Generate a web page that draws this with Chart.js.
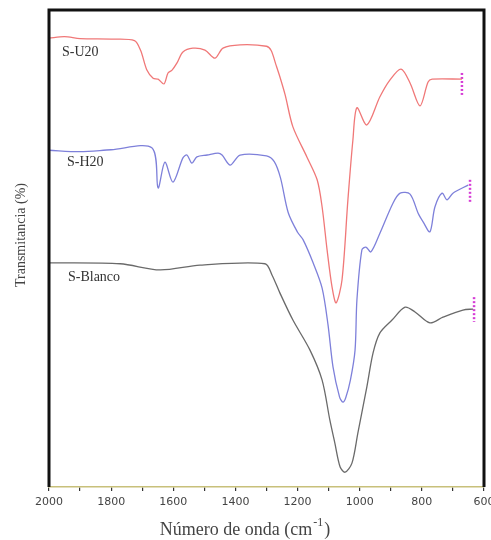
<!DOCTYPE html>
<html>
<head>
<meta charset="utf-8">
<script src="https://cdn.jsdelivr.net/npm/chart.js@4.4.1/dist/chart.umd.min.js"></script>
<style>
  html, body { margin: 0; padding: 0; background: #fff; }
  #wrap { position: relative; width: 491px; height: 540px; }
</style>
</head>
<body>
<div id="wrap"><canvas id="ftir"></canvas></div>
<script>
(function () {
  "use strict";

  // wavenumber (cm-1) / transmittance (arbitrary, 0-100)
  var u20Wave = [2000, 1950, 1900, 1800, 1725, 1705, 1685, 1665, 1649, 1630, 1617, 1604, 1588, 1569, 1537, 1498, 1466, 1440, 1385, 1300, 1285, 1270, 1257, 1240, 1215, 1170, 1137, 1121, 1105, 1089, 1076, 1057, 1038, 1022, 1009, 977, 935, 903, 867, 838, 806, 780, 767, 671];
  var u20Trans = [94.1, 94.4, 94.0, 93.9, 93.6, 91.5, 87.4, 85.7, 85.5, 84.5, 86.8, 87.4, 88.9, 91.2, 92.0, 91.6, 89.9, 92.0, 92.7, 92.4, 91.5, 88.6, 86.0, 82.2, 75.5, 69.2, 64.4, 58.7, 49.7, 41.9, 38.6, 43.4, 60.2, 72.7, 79.5, 75.9, 81.8, 85.3, 87.6, 84.7, 79.9, 84.9, 85.5, 85.5];

  var h20Wave = [2000, 1900, 1800, 1669, 1649, 1627, 1601, 1569, 1556, 1540, 1524, 1491, 1456, 1443, 1417, 1385, 1300, 1275, 1255, 1230, 1200, 1182, 1150, 1121, 1102, 1086, 1065, 1054, 1045, 1030, 1015, 1009, 993, 980, 964, 935, 893, 870, 838, 812, 796, 774, 758, 735, 719, 700, 651];
  var h20Trans = [70.6, 70.3, 70.7, 71.1, 62.7, 68.1, 63.9, 69.0, 69.6, 67.9, 69.2, 69.6, 70.0, 69.6, 67.5, 69.6, 69.4, 68.2, 64.8, 57.5, 53.4, 51.8, 47.0, 41.7, 34.0, 25.2, 18.9, 17.8, 18.7, 22.4, 28.7, 39.2, 49.7, 50.3, 49.3, 53.2, 59.5, 61.6, 61.4, 57.4, 55.6, 53.5, 58.7, 61.6, 60.2, 61.6, 63.3];

  var blancoWave = [2000, 1771, 1643, 1514, 1305, 1282, 1257, 1215, 1160, 1121, 1096, 1080, 1063, 1047, 1025, 1006, 977, 957, 935, 896, 854, 822, 774, 732, 668, 635];
  var blancoTrans = [47.0, 46.8, 45.5, 46.5, 46.8, 44.4, 40.7, 35.0, 28.7, 22.4, 14.0, 9.2, 4.2, 3.1, 5.0, 11.3, 21.0, 28.1, 32.3, 35.0, 37.7, 36.7, 34.4, 35.6, 37.1, 37.3];

  // small dotted end markers
  var u20MarkWave = [671, 671];
  var u20MarkTrans = [86.8, 82.2];
  var h20MarkWave = [645, 645];
  var h20MarkTrans = [64.4, 59.5];
  var blancoMarkWave = [632, 632];
  var blancoMarkTrans = [39.8, 34.6];

  var seriesNames = ["S-U20", "S-H20", "S-Blanco"];
  var labelWave = [1958, 1942, 1939];
  var labelTrans = [91.2, 68.1, 44.0];

  var xTicks = [2000, 1800, 1600, 1400, 1200, 1000, 800, 600];

  function pts(xs, ys) {
    return xs.map(function (x, i) { return { x: x, y: ys[i] }; });
  }

  function spectrum(label, xs, ys, color) {
    return {
      label: label,
      data: pts(xs, ys),
      borderColor: color,
      borderWidth: 1.3,
      pointRadius: 0,
      tension: 0.3,
      fill: false
    };
  }

  function marker(xs, ys) {
    return {
      data: pts(xs, ys),
      borderColor: "#d63cd6",
      borderWidth: 2.5,
      borderDash: [2, 2],
      pointRadius: 0,
      fill: false
    };
  }

  var framePlugin = {
    id: "frame",
    afterDraw: function (chart) {
      var ctx = chart.ctx;
      var a = chart.chartArea;
      var xs = chart.scales.x, ys = chart.scales.y;
      ctx.save();

      // thick black frame on top/left/right
      ctx.strokeStyle = "#111";
      ctx.lineWidth = 3;
      ctx.beginPath();
      ctx.moveTo(a.left, a.bottom);
      ctx.lineTo(a.left, a.top);
      ctx.lineTo(a.right, a.top);
      ctx.lineTo(a.right, a.bottom);
      ctx.stroke();

      // series labels
      ctx.fillStyle = "#333";
      ctx.font = "14px 'Liberation Serif', 'DejaVu Serif', serif";
      ctx.textAlign = "left";
      ctx.textBaseline = "middle";
      seriesNames.forEach(function (name, i) {
        ctx.fillText(name, xs.getPixelForValue(labelWave[i]), ys.getPixelForValue(labelTrans[i]));
      });

      // axis titles
      ctx.fillStyle = "#444";
      var cx = 236;
      ctx.font = "18px 'Liberation Serif', 'DejaVu Serif', serif";
      ctx.textAlign = "center";
      ctx.fillText("Número de onda (cm", cx, 530);
      var w = ctx.measureText("Número de onda (cm").width;
      ctx.font = "12px 'Liberation Serif', 'DejaVu Serif', serif";
      ctx.textAlign = "left";
      ctx.fillText("-1", cx + w / 2 + 1, 523);
      var w2 = ctx.measureText("-1").width;
      ctx.font = "18px 'Liberation Serif', 'DejaVu Serif', serif";
      ctx.fillText(")", cx + w / 2 + w2 + 2, 530);

      ctx.translate(21, 235);
      ctx.rotate(-Math.PI / 2);
      ctx.font = "14px 'Liberation Serif', 'DejaVu Serif', serif";
      ctx.textAlign = "center";
      ctx.fillText("Transmitancia (%)", 0, 0);
      ctx.restore();
    }
  };

  new Chart(document.getElementById("ftir").getContext("2d"), {
    type: "line",
    data: {
      datasets: [
        spectrum(seriesNames[0], u20Wave, u20Trans, "#f07878"),
        spectrum(seriesNames[1], h20Wave, h20Trans, "#7e80da"),
        spectrum(seriesNames[2], blancoWave, blancoTrans, "#6a6a6a"),
        marker(u20MarkWave, u20MarkTrans),
        marker(h20MarkWave, h20MarkTrans),
        marker(blancoMarkWave, blancoMarkTrans)
      ]
    },
    options: {
      responsive: true,
      maintainAspectRatio: false,
      animation: false,
      layout: { padding: { top: 10, right: 7, left: 0, bottom: 0 } },
      plugins: {
        legend: { display: false },
        tooltip: { enabled: false }
      },
      scales: {
        x: {
          type: "linear",
          reverse: true,
          min: 600,
          max: 2000,
          afterBuildTicks: function (s) {
            var t = [];
            for (var v = 2000; v >= 600; v -= 100) t.push({ value: v });
            s.ticks = t;
          },
          afterFit: function (s) {
            s.height = 53;
            s.paddingLeft = 0;
            s.paddingRight = 0;
          },
          border: { display: true, color: "#c8c07a", width: 1.5 },
          grid: {
            drawOnChartArea: false,
            drawTicks: true,
            tickLength: 4,
            color: "#333",
            lineWidth: 1.2
          },
          ticks: {
            autoSkip: false,
            maxRotation: 0,
            padding: 5,
            color: "#444",
            font: { family: "'DejaVu Sans', sans-serif", size: 11 },
            callback: function (v) {
              return xTicks.indexOf(v) >= 0 ? String(v) : "";
            }
          }
        },
        y: {
          min: 0,
          max: 100,
          afterFit: function (s) {
            s.width = 49;
            s.paddingTop = 0;
            s.paddingBottom = 0;
          },
          border: { display: false },
          grid: { display: false },
          ticks: { display: false }
        }
      }
    },
    plugins: [framePlugin]
  });
})();
</script>
</body>
</html>
